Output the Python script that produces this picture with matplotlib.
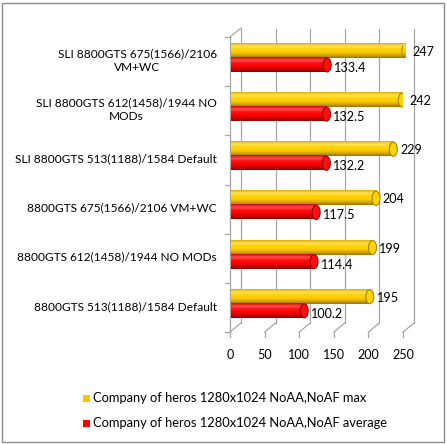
import matplotlib.pyplot as plt
import numpy as np
from matplotlib.patches import Rectangle, Ellipse
from matplotlib.colors import LinearSegmentedColormap

plt.rcParams['font.family'] = ['Lato', 'DejaVu Sans']

# data (bottom to top, as Excel draws a bar chart)
categories = ['8800GTS 513(1188)/1584 Default',
              '8800GTS 612(1458)/1944 NO MODs',
              '8800GTS 675(1566)/2106 VM+WC',
              'SLI 8800GTS 513(1188)/1584 Default',
              'SLI 8800GTS 612(1458)/1944 NO\nMODs',
              'SLI 8800GTS 675(1566)/2106\nVM+WC']
max_fps = [195, 199, 204, 229, 242, 247]
avg_fps = [100.2, 114.4, 117.5, 132.2, 132.5, 133.4]
series_names = ['Company of heros 1280x1024 NoAA,NoAF max',
                'Company of heros 1280x1024 NoAA,NoAF average']
xticks = [0, 50, 100, 150, 200, 250]

W, H = 447, 444
FS = 9.1
fig = plt.figure(figsize=(W / 100, H / 100), dpi=100)
fig.patch.set_facecolor('white')

# front plane of the 3d plot in pixels
x0px, x1px, ytop, ybot = 230, 403, 37, 332
ax = fig.add_axes([x0px / W, 1 - ybot / H, (x1px - x0px) / W, (ybot - ytop) / H])
ax.set_xlim(0, 250)
ax.set_ylim(0, 6)
ax.axis('off')

ux = (x1px - x0px) / 250.0      # px per value unit
uy = (ybot - ytop) / 6.0        # px per category
dx = 11 / ux                    # depth offset
dy = 9 / uy

grid_c = '#a6a6a6'
kw = dict(color=grid_c, lw=0.9, clip_on=False, zorder=1)
# back wall gridlines + floor diagonals + ticks
for t in xticks:
    ax.plot([t + dx, t + dx], [dy, 6 + dy - 0.02], **kw)
    ax.plot([t, t + dx], [0, dy], **kw)
    ax.plot([t, t], [0, -5 / uy], **kw)
    ax.text(t, -23 / uy, str(t), ha='center', va='center', fontsize=FS, color='black')
# left axis
ax.plot([0, 0], [0, 6], **kw)
ax.plot([0, dx], [6, 6 + dy], **kw)
for k in range(7):
    ax.plot([-5 / ux, 0], [k, k], **kw)

yellow = LinearSegmentedColormap.from_list('y', ['#9a7400', '#d8a800', '#ffcc00', '#ffd400', '#ffe060', '#e0b000'])
red = LinearSegmentedColormap.from_list('r', ['#8a0000', '#cc0000', '#ff0000', '#ff1010', '#ff5050', '#d00000'])
edge_y, edge_r = '#a88400', '#a00000'
grad = np.linspace(0, 1, 64).reshape(-1, 1)

xoff = 7
bh = 0.285
offs = [0.718, 0.432]
cap = 8 / ux


def cylinder(v, yc, cmap, edge):
    yb = yc - bh / 2
    rect = Rectangle((xoff, yb), v, bh, fc='none', ec='none')
    ax.add_patch(rect)
    im = ax.imshow(grad, extent=[xoff - cap / 2, xoff + v, yb, yb + bh], origin='lower',
                   aspect='auto', cmap=cmap, zorder=3, clip_on=False)
    left = Ellipse((xoff, yc), cap, bh, fc='none', ec='none')
    ax.add_patch(left)
    im2 = ax.imshow(grad, extent=[xoff - cap / 2, xoff + cap / 2, yb, yb + bh], origin='lower',
                    aspect='auto', cmap=cmap, zorder=3, clip_on=False)
    im.set_clip_path(rect)
    im2.set_clip_path(left)
    ax.add_patch(Ellipse((xoff + v, yc), cap, bh, fc=cmap(0.6), ec=edge, lw=0.8, zorder=5))


for i in range(len(categories)):
    yc_max = i + offs[0]
    yc_avg = i + offs[1]
    cylinder(max_fps[i], yc_max, yellow, edge_y)
    cylinder(avg_fps[i], yc_avg, red, edge_r)
    ax.text(xoff + max_fps[i] + cap * 0.85, yc_max - 0.02, f'{max_fps[i]:g}',
            ha='left', va='center', fontsize=FS)
    ax.text(xoff + avg_fps[i] + cap * 0.85, yc_avg - 0.06, f'{avg_fps[i]:g}',
            ha='left', va='center', fontsize=FS)
    ax.text(-13 / ux, i + 0.52, categories[i], ha='right', va='center',
            multialignment='center', fontsize=8.6, linespacing=1.25)

ax.set_xlim(0, 250)
ax.set_ylim(0, 6)

# legend
for j, (name, c) in enumerate(zip(series_names, ['#ffc000', '#ff0000'])):
    yy = 1 - (398 + 25 * j) / H
    fig.patches.append(Rectangle((83 / W, yy - 3.5 / H), 7 / W, 7 / H, fc=c, ec='none',
                                 transform=fig.transFigure, figure=fig))
    fig.text(93 / W, yy, name, ha='left', va='center', fontsize=9.3)

# outer border
fig.patches.append(Rectangle((2 / W, 2 / H), 442 / W, 439 / H, fc='none', ec='#8c8c8c', lw=1,
                             transform=fig.transFigure, figure=fig))

fig.savefig('out.png', dpi=100)
